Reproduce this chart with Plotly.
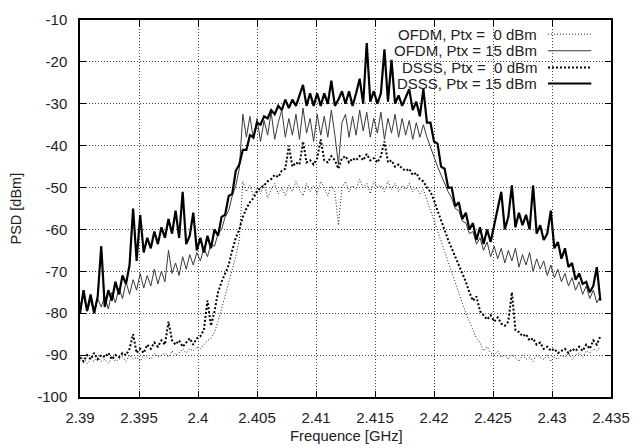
import plotly.graph_objects as go

# Frequency sampling grid (GHz)
FREQ_START = 2.39
FREQ_STEP = 0.0003

# PSD values [dBm], one per frequency sample
dsss_15 = [
    -80, -74.5, -79.5, -75.5, -80, -76, -64, -78.5, -74.5, -77,
    -72.5, -75.5, -71, -73, -68.5, -55, -67.5, -56.5, -65.5, -62,
    -64.5, -60.5, -63.5, -59.5, -62, -57.5, -61, -55.5, -62, -51,
    -63.5, -61.5, -56, -65, -62, -65.5, -61.5, -64.5, -60, -61.5,
    -57, -56.5, -52, -51.5, -46, -44.5, -41, -41, -37.5, -38,
    -34.5, -35, -33, -33.5, -31.5, -32.5, -30.5, -31.5, -29, -31,
    -29, -30.5, -28, -25.5, -30.5, -27.5, -30.5, -27.5, -30.5, -27.5,
    -30, -24.5, -30.5, -29, -27, -30, -27, -30.5, -27.5, -24,
    -30, -15.5, -29.5, -27, -30, -27.5, -17, -29.5, -19.5, -30,
    -28, -30.5, -28.5, -26.5, -31.5, -29.5, -33, -26.5, -34.5, -34.5,
    -39, -39.5, -45, -45.5, -50, -50, -54.5, -53.5, -57.5, -56,
    -60, -58.5, -62.5, -59.5, -63.5, -60, -63, -59, -55.5, -51,
    -60, -57, -49.5, -59.5, -56, -59, -56.5, -60, -49.5, -61,
    -59, -62.5, -61, -55.5, -64.5, -63, -67, -64.5, -69, -68,
    -72, -70.5, -73, -72.5, -75, -73.5, -69, -77,
]

ofdm_15 = [
    -78, -76, -79.5, -77, -80, -76.5, -78.5, -76, -79, -75,
    -77.5, -74, -76.5, -72.5, -75.5, -72, -74.5, -70.5, -74, -71,
    -73.5, -69.5, -73, -70, -72.5, -65, -70.5, -68, -71, -66.5,
    -69.5, -66, -68.5, -65.5, -67.5, -64.5, -66.5, -63.5, -64, -61,
    -60, -57, -55.5, -52, -49.5, -45.5, -32.5, -38, -33, -38.5,
    -33.5, -39, -34, -37.5, -32, -38.5, -34.5, -31.5, -38, -33.5,
    -37.5, -32.5, -38.5, -31, -37, -33.5, -39, -32.5, -37.5, -33,
    -38, -31.5, -37.5, -44.5, -34.5, -32.5, -38, -33, -37.5, -31.5,
    -36.5, -32, -38, -33.5, -37, -32, -38.5, -33.5, -37, -32.5,
    -38, -33.5, -37.5, -34, -38.5, -34.5, -38, -35, -38, -40.5,
    -42.5, -45, -47, -49, -51, -52.5, -55, -55.5, -58, -58.5,
    -61, -60.5, -63.5, -62, -65, -63, -66.5, -64, -67, -64.5,
    -68, -65, -67.5, -64.5, -69, -66, -68.5, -65.5, -70, -67,
    -69.5, -67.5, -71, -68.5, -71.5, -69.5, -72.5, -70.5, -73.5, -71.5,
    -74.5, -72.5, -75.5, -73.5, -76.5, -74.5, -77.5, -76,
]

dsss_0 = [
    -90.5, -91.5, -90, -91, -89.5, -91, -90, -90.5, -89.5, -91,
    -90, -90.5, -89.5, -90, -88.5, -85, -89.5, -88.5, -89.5, -87.5,
    -88.5, -87, -88, -86.5, -87.5, -82, -86.5, -87.5, -86.5, -88,
    -87, -86, -87.5, -86, -85.5, -84, -77, -83, -79.5, -75,
    -72.5, -70.5, -68.5, -65, -62, -60, -57, -55, -53.5, -52.5,
    -51, -50, -49.5, -48.5, -48, -47, -47.5, -46, -45.5, -40,
    -45, -44, -44.5, -39, -44, -43.5, -44.5, -43, -38.5, -43.5,
    -44, -42.5, -43.5, -45.5, -43, -42.5, -44, -43, -43.5, -42.5,
    -43.5, -42, -43.5, -43, -44, -42.5, -39, -44, -43.5, -45,
    -44.5, -45.5, -46, -45.5, -47, -46.5, -48, -48.5, -50, -51,
    -53, -55.5, -58, -60, -62.5, -64.5, -66.5, -68.5, -70.5, -72.5,
    -75, -77, -76, -79.5, -80.5, -81.5, -80.5, -82, -81, -82.5,
    -83, -82, -75, -84, -84.5, -85.5, -85, -86.5, -86, -87.5,
    -87, -88.5, -88, -89, -88.5, -89.5, -89, -88.5, -89.5, -88.5,
    -89, -88, -89, -87.5, -88.5, -86.5, -87.5, -85.5,
]

ofdm_0 = [
    -91.5, -90.5, -92, -91, -91.5, -90.5, -91.5, -91, -92, -90.5,
    -91.5, -91, -90.5, -91.5, -90, -91, -90.5, -91.5, -90, -90.5,
    -91, -89.5, -90.5, -90, -89.5, -90.5, -89, -90, -89.5, -88.5,
    -89.5, -88.5, -89, -88, -88.5, -87.5, -86.5, -86, -84.5, -82,
    -79, -76, -73, -69.5, -66.5, -62.5, -48.5, -51, -49.5, -52,
    -50, -51.5, -49, -52.5, -50.5, -49, -51.5, -50, -52, -49.5,
    -51, -48.5, -50.5, -52, -49, -51, -49.5, -51.5, -48.5, -50,
    -52, -49.5, -51, -59, -50, -48.5, -51, -49.5, -50.5, -48,
    -50, -49, -51.5, -48.5, -50, -49.5, -51, -48.5, -50.5, -49,
    -51, -49.5, -50.5, -49, -51, -50, -51.5, -50.5, -53, -55.5,
    -57.5, -60.5, -63, -65.5, -68, -70.5, -73, -75, -77.5, -80,
    -82, -84, -86, -87, -89, -88, -89.5, -90, -89, -90.5,
    -90, -91, -90, -90.5, -91.5, -90, -91, -90.5, -91.5, -90,
    -90.5, -91, -90, -91.5, -90.5, -91, -90, -90.5, -89.5, -91,
    -90, -89.5, -90.5, -89, -89.5, -88.5, -89, -88,
]

# Axis ticks
x_tickvals = [2.39, 2.395, 2.40, 2.405, 2.41, 2.415, 2.42, 2.425, 2.43, 2.435]
x_ticktext = ["2.39", "2.395", "2.4", "2.405", "2.41", "2.415", "2.42", "2.425", "2.43", "2.435"]
y_tickvals = [-100, -90, -80, -70, -60, -50, -40, -30, -20, -10]
y_ticktext = ["-100", "-90", "-80", "-70", "-60", "-50", "-40", "-30", "-20", "-10"]

legend_labels = [
    "OFDM, Ptx =  0 dBm",
    "OFDM, Ptx = 15 dBm",
    "DSSS, Ptx =  0 dBm",
    "DSSS, Ptx = 15 dBm",
]

freq = [round(FREQ_START + FREQ_STEP * i, 4) for i in range(len(dsss_15))]

FONT = "Liberation Sans, Arial, Helvetica, sans-serif"
TXT = "#222222"

styles = [
    dict(color="#222222", width=1, dash="1px,2px"),   # OFDM 0 dBm
    dict(color="#3a3a3a", width=1, dash="solid"),     # OFDM 15 dBm
    dict(color="#000000", width=2, dash="2px,2px"),   # DSSS 0 dBm
    dict(color="#000000", width=2.2, dash="solid"),   # DSSS 15 dBm
]
series = [ofdm_0, ofdm_15, dsss_0, dsss_15]

fig = go.Figure()
for name, ys, st in zip(legend_labels, series, styles):
    fig.add_trace(go.Scatter(x=freq, y=ys, mode="lines", name=name,
                             line=st, showlegend=False))

# gnuplot-style key: right-aligned text followed by a line sample
row_y = [0.9624, 0.9184, 0.8743, 0.8316]
for label, st, yy in zip(legend_labels, styles, row_y):
    fig.add_annotation(x=0.8646, y=yy, xref="paper", yref="paper",
                       text=label.replace("  ", "&nbsp;&nbsp;"), showarrow=False,
                       xanchor="right", yanchor="middle",
                       font=dict(family=FONT, size=15, color=TXT))
    fig.add_shape(type="line", xref="paper", yref="paper",
                  x0=0.8813, x1=0.9629, y0=yy, y1=yy,
                  line=dict(color=st["color"], width=st["width"], dash=st["dash"]))

fig.add_annotation(x=-0.1224, y=0.5, xref="paper", yref="paper", text="PSD [dBm]",
                   textangle=-90, showarrow=False, xanchor="center", yanchor="middle",
                   font=dict(family=FONT, size=14.5, color=TXT))
fig.add_annotation(x=0.501, y=-0.1036, xref="paper", yref="paper", text="Frequence [GHz]",
                   showarrow=False, xanchor="center", yanchor="middle",
                   font=dict(family=FONT, size=14.8, color=TXT))

axis_common = dict(
    showline=True, linecolor="black", linewidth=1.5, mirror="allticks",
    ticks="inside", ticklen=6, tickcolor="black", tickwidth=1,
    showgrid=True, gridcolor="#444444", gridwidth=1, griddash="1px,2px",
    zeroline=False, tickfont=dict(family=FONT, size=15, color=TXT),
)

fig.update_xaxes(range=[2.39, 2.435], tickmode="array", tickvals=x_tickvals,
                 ticktext=x_ticktext, ticklabelstandoff=6, **axis_common)
fig.update_yaxes(range=[-100, -10], tickmode="array", tickvals=y_tickvals,
                 ticktext=y_ticktext, ticklabelstandoff=8, **axis_common)

fig.update_layout(
    width=641, height=448,
    margin=dict(l=80, r=22, t=11, b=51),
    paper_bgcolor="white", plot_bgcolor="white",
    font=dict(family=FONT, color=TXT),
)

fig.write_html("out.html")
